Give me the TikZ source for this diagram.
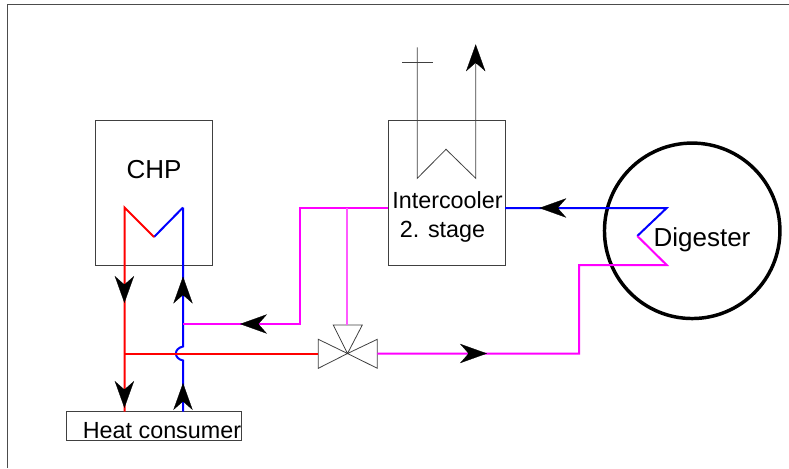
\documentclass[tikz,border=0pt]{standalone}
\usepackage{xcolor}
\usepackage{fontspec}
\setmainfont{Liberation Sans}
\usetikzlibrary{arrows.meta}
\definecolor{mixcolor}{RGB}{255,0,255}
\definecolor{branchcolor}{RGB}{255,90,255}
\tikzset{
    box/.style={draw=black!75, line width=0.75pt, inner sep=0pt},
    biglabel/.style={inner sep=0pt, font=\fontsize{19.5}{22}\selectfont},
    smalllabel/.style={inner sep=0pt, font=\fontsize{17.5}{20}\selectfont},
    hotpipe/.style={draw=red, line width=1.5pt},
    coldpipe/.style={draw=blue, line width=1.5pt},
    mixpipe/.style={draw=mixcolor, line width=1.5pt},
    thinline/.style={draw=black!75, line width=0.6pt},
    flowtip/.style={draw=black, line width=0.2pt, -{Stealth[length=20.25pt, width=14.5pt, inset=6.4pt]}}
}
\begin{document}
\begin{tikzpicture}[x=0.75pt, y=-0.75pt]
        \useasboundingbox (0,0) rectangle (789,468);
        % Frame
        \coordinate (framebl) at (7.5,468);
        \coordinate (frametl) at (7.5,4.3);
        \coordinate (frametr) at (789,4.3);
        \draw[draw=black!70, line width=0.8pt] (framebl) -- (frametl) -- (frametr);

        % Units
        \node[box, minimum width=87.75pt, minimum height=109.1pt] (chp) at (154,193.2) {};
        \node[box, minimum width=87.75pt, minimum height=109.1pt] (intercooler) at (446.5,193.2) {};
        \node[box, minimum width=131.7pt, minimum height=21.9pt] (consumer) at (153.8,426.3) {};
        \node[circle, draw=black, line width=2.6pt, inner sep=0pt, minimum size=131.6pt] (digester) at (692.2,230.8) {};

        % Labels
        \node[biglabel] (chplabel) at (154,170) {CHP};
        \node[biglabel] (digesterlabel) at (702,239.5) {Digester};
        \node[smalllabel] (coolerlabel) at (447.5,200) {Intercooler};
        \node[smalllabel] (stagelabel) at (442.5,232) {2. stage};
        \node[smalllabel] (consumerlabel) at (162,430.5) {Heat consumer};

        % Pipe corners
        \coordinate (chpa) at (124.5,207.5);
        \coordinate (chpb) at (154,237);
        \coordinate (chpc) at (183,207.5);
        \coordinate (redin) at (124.5,411.5);
        \coordinate (redtee) at (124.5,353.5);
        \coordinate (bluein) at (183,411.5);
        \coordinate (jumpa) at (183,360.5);
        \coordinate (jumpctla) at (173.5,358.5);
        \coordinate (jumpctlb) at (173.5,348.5);
        \coordinate (jumpb) at (183,346.5);
        \coordinate (bluetee) at (183,324);
        \coordinate (mixa) at (300,324);
        \coordinate (mixb) at (300,208);
        \coordinate (branch) at (347,208);
        \coordinate (coolerin) at (388,208);
        \coordinate (coolerout) at (505,208);
        \coordinate (digia) at (666.7,208);
        \coordinate (digib) at (637.3,236);
        \coordinate (digic) at (666.7,265);
        \coordinate (mixc) at (579,265);
        \coordinate (mixd) at (579,353.5);

        % Valve
        \coordinate (valve) at (347.5,353.5);
        \coordinate (valvetl) at (333.3,325);
        \coordinate (valvetr) at (362.3,325);
        \coordinate (valvetop) at (347,325);
        \coordinate (valvel) at (318.3,353.5);
        \coordinate (valvelu) at (318.3,339.3);
        \coordinate (valveld) at (318.3,368.3);
        \coordinate (valver) at (377.3,353.5);
        \coordinate (valveru) at (377.3,339.3);
        \coordinate (valverd) at (377.3,368.3);
        \draw[thinline] (valvetl) -- (valvetr) -- (valve) -- cycle;
        \draw[thinline] (valvelu) -- (valveld) -- (valve) -- cycle;
        \draw[thinline] (valveru) -- (valverd) -- (valve) -- cycle;

        % Pipes
        \draw[coldpipe] (chpc) -- (chpb);
        \draw[coldpipe] (bluein) -- (jumpa) .. controls (jumpctla) and (jumpctlb) .. (jumpb) -- (chpc);
        \draw[hotpipe] (chpb) -- (chpa) -- (redin);
        \draw[hotpipe] (redtee) -- (valvel);
        \draw[mixpipe] (bluetee) -- (mixa) -- (mixb) -- (coolerin);
        \draw[draw=branchcolor, line width=0.8pt] (branch) -- (valvetop);
        \draw[coldpipe] (coolerout) -- (digia) -- (digib);
        \draw[mixpipe] (digib) -- (digic) -- (mixc) -- (mixd) -- (valver);

        % Heat exchanger in the intercooler
        \coordinate (coola) at (417.3,178.3);
        \coordinate (coolb) at (446,149.3);
        \coordinate (coolc) at (475.7,178.3);
        \coordinate (stack) at (417.3,47.3);
        \coordinate (capl) at (402,62.3);
        \coordinate (capr) at (432.7,62.3);
        \coordinate (exhaust) at (475.7,60);
        \draw[thinline] (stack) -- (coola) -- (coolb) -- (coolc) -- (exhaust);
        \draw[thinline] (capl) -- (capr);

        % Flow arrows
        \coordinate (tipa) at (124.4,303);
        \coordinate (taila) at (124.4,284);
        \coordinate (tipb) at (124.4,408);
        \coordinate (tailb) at (124.4,389);
        \coordinate (tipc) at (183,276.5);
        \coordinate (tailc) at (183,295.5);
        \coordinate (tipd) at (183,383);
        \coordinate (taild) at (183,402);
        \coordinate (tipe) at (240,324);
        \coordinate (taile) at (259,324);
        \coordinate (tipf) at (539.3,208);
        \coordinate (tailf) at (558.3,208);
        \coordinate (tipg) at (487,353.5);
        \coordinate (tailg) at (468,353.5);
        \coordinate (tiph) at (475.7,44.3);
        \coordinate (tailh) at (475.7,63.3);
        \draw[flowtip] (taila) -- (tipa);
        \draw[flowtip] (tailb) -- (tipb);
        \draw[flowtip] (tailc) -- (tipc);
        \draw[flowtip] (taild) -- (tipd);
        \draw[flowtip] (taile) -- (tipe);
        \draw[flowtip] (tailf) -- (tipf);
        \draw[flowtip] (tailg) -- (tipg);
        \draw[flowtip] (tailh) -- (tiph);
    \end{tikzpicture}
\end{document}
